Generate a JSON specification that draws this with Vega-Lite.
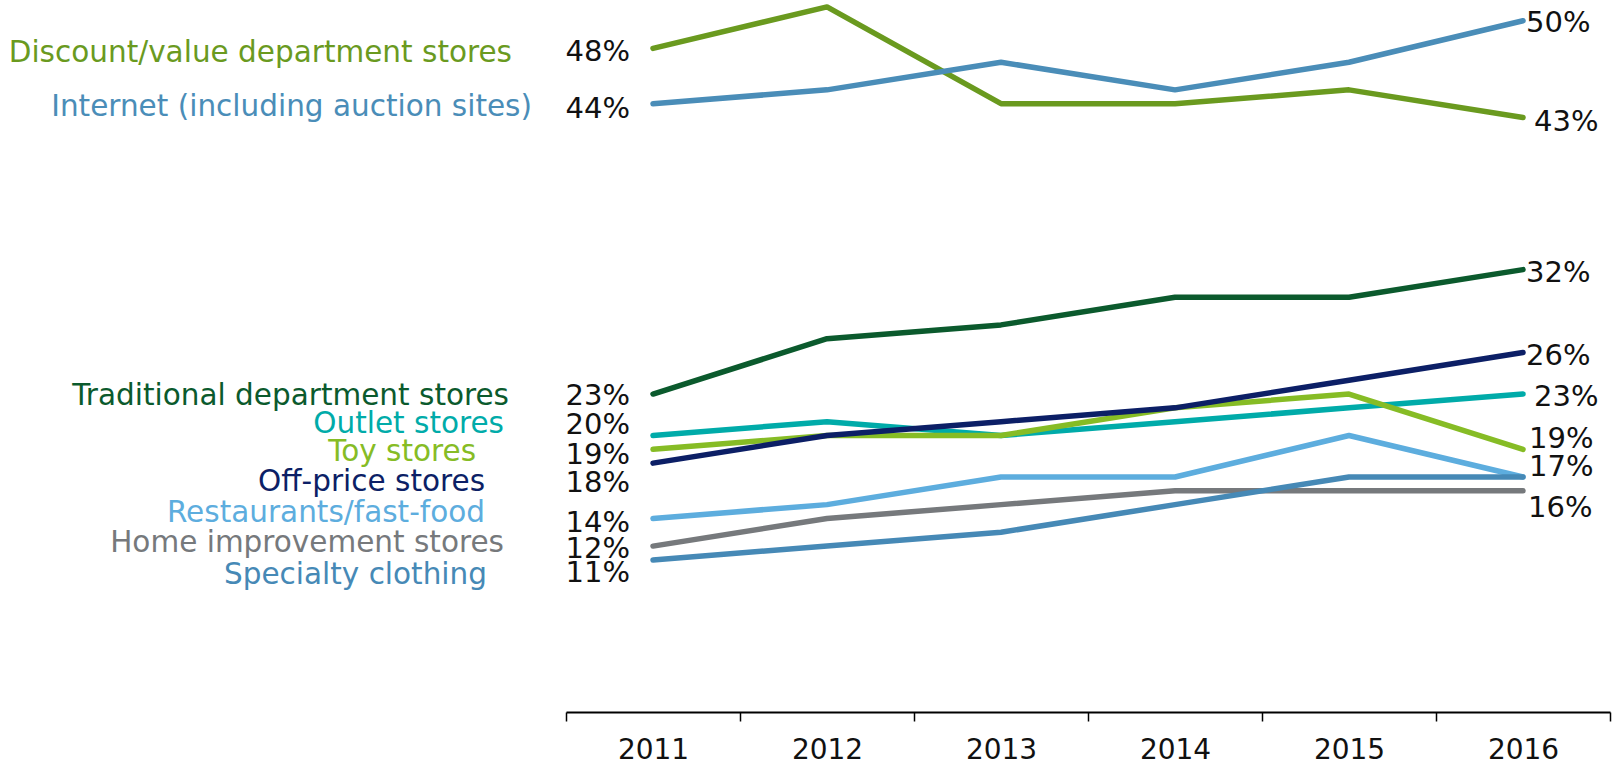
{
  "$schema": "https://vega.github.io/schema/vega-lite/v6.json",
  "width": 1044,
  "height": 712,
  "autosize": {"type": "none"},
  "padding": {"left": 566, "top": 0, "right": 3, "bottom": 54},
  "background": "white",
  "config": {"view": {"stroke": null}},
  "data": {
    "values": [
      {"series": "Discount/value department stores", "year": "2011", "value": 0.48},
      {"series": "Discount/value department stores", "year": "2012", "value": 0.51},
      {"series": "Discount/value department stores", "year": "2013", "value": 0.44},
      {"series": "Discount/value department stores", "year": "2014", "value": 0.44},
      {"series": "Discount/value department stores", "year": "2015", "value": 0.45},
      {"series": "Discount/value department stores", "year": "2016", "value": 0.43},
      {"series": "Internet (including auction sites)", "year": "2011", "value": 0.44},
      {"series": "Internet (including auction sites)", "year": "2012", "value": 0.45},
      {"series": "Internet (including auction sites)", "year": "2013", "value": 0.47},
      {"series": "Internet (including auction sites)", "year": "2014", "value": 0.45},
      {"series": "Internet (including auction sites)", "year": "2015", "value": 0.47},
      {"series": "Internet (including auction sites)", "year": "2016", "value": 0.50},
      {"series": "Traditional department stores", "year": "2011", "value": 0.23},
      {"series": "Traditional department stores", "year": "2012", "value": 0.27},
      {"series": "Traditional department stores", "year": "2013", "value": 0.28},
      {"series": "Traditional department stores", "year": "2014", "value": 0.30},
      {"series": "Traditional department stores", "year": "2015", "value": 0.30},
      {"series": "Traditional department stores", "year": "2016", "value": 0.32},
      {"series": "Outlet stores", "year": "2011", "value": 0.20},
      {"series": "Outlet stores", "year": "2012", "value": 0.21},
      {"series": "Outlet stores", "year": "2013", "value": 0.20},
      {"series": "Outlet stores", "year": "2014", "value": 0.21},
      {"series": "Outlet stores", "year": "2015", "value": 0.22},
      {"series": "Outlet stores", "year": "2016", "value": 0.23},
      {"series": "Toy stores", "year": "2011", "value": 0.19},
      {"series": "Toy stores", "year": "2012", "value": 0.20},
      {"series": "Toy stores", "year": "2013", "value": 0.20},
      {"series": "Toy stores", "year": "2014", "value": 0.22},
      {"series": "Toy stores", "year": "2015", "value": 0.23},
      {"series": "Toy stores", "year": "2016", "value": 0.19},
      {"series": "Off-price stores", "year": "2011", "value": 0.18},
      {"series": "Off-price stores", "year": "2012", "value": 0.20},
      {"series": "Off-price stores", "year": "2013", "value": 0.21},
      {"series": "Off-price stores", "year": "2014", "value": 0.22},
      {"series": "Off-price stores", "year": "2015", "value": 0.24},
      {"series": "Off-price stores", "year": "2016", "value": 0.26},
      {"series": "Restaurants/fast-food", "year": "2011", "value": 0.14},
      {"series": "Restaurants/fast-food", "year": "2012", "value": 0.15},
      {"series": "Restaurants/fast-food", "year": "2013", "value": 0.17},
      {"series": "Restaurants/fast-food", "year": "2014", "value": 0.17},
      {"series": "Restaurants/fast-food", "year": "2015", "value": 0.20},
      {"series": "Restaurants/fast-food", "year": "2016", "value": 0.17},
      {"series": "Home improvement stores", "year": "2011", "value": 0.12},
      {"series": "Home improvement stores", "year": "2012", "value": 0.14},
      {"series": "Home improvement stores", "year": "2013", "value": 0.15},
      {"series": "Home improvement stores", "year": "2014", "value": 0.16},
      {"series": "Home improvement stores", "year": "2015", "value": 0.16},
      {"series": "Home improvement stores", "year": "2016", "value": 0.16},
      {"series": "Specialty clothing", "year": "2011", "value": 0.11},
      {"series": "Specialty clothing", "year": "2012", "value": 0.12},
      {"series": "Specialty clothing", "year": "2013", "value": 0.13},
      {"series": "Specialty clothing", "year": "2014", "value": 0.15},
      {"series": "Specialty clothing", "year": "2015", "value": 0.17},
      {"series": "Specialty clothing", "year": "2016", "value": 0.17}
    ]
  },
  "encoding": {
    "x": {
      "field": "year",
      "type": "ordinal",
      "bandPosition": 0.5,
      "scale": {"type": "band", "paddingInner": 0, "paddingOuter": 0},
      "axis": {
        "title": null,
        "labelAngle": 0,
        "domainColor": "#000000",
        "domainWidth": 2,
        "tickColor": "#000000",
        "tickWidth": 1.5,
        "tickSize": 9,
        "tickBand": "extent",
        "labelFont": "DejaVu Sans",
        "labelFontSize": 28,
        "labelColor": "#111111",
        "labelPadding": 15,
        "grid": false
      }
    },
    "y": {
      "field": "value",
      "type": "quantitative",
      "scale": {"domain": [0, 0.515], "nice": false, "zero": true},
      "axis": null
    }
  },
  "layer": [
    {
      "mark": {"type": "line", "strokeWidth": 5.5, "strokeCap": "round", "strokeJoin": "round"},
      "encoding": {
        "color": {
          "field": "series",
          "type": "nominal",
          "legend": null,
          "scale": {
            "domain": ["Discount/value department stores", "Internet (including auction sites)", "Traditional department stores", "Outlet stores", "Toy stores", "Off-price stores", "Restaurants/fast-food", "Home improvement stores", "Specialty clothing"],
            "range": ["#6A9A1F", "#4A8DB8", "#0B5A2D", "#00ABA9", "#86BC25", "#0C1F66", "#5DADDE", "#76797C", "#4689B6"]
          }
        }
      }
    },
    {"transform": [{"filter": "datum.year === '2011' && datum.series === 'Discount/value department stores'"}], "mark": {"type": "text", "align": "right", "baseline": "middle", "dx": -141, "dy": 5, "font": "DejaVu Sans", "fontSize": 29.5}, "encoding": {"text": {"field": "series"}, "color": {"field": "series", "type": "nominal", "legend": null}}},
    {"transform": [{"filter": "datum.year === '2011' && datum.series === 'Internet (including auction sites)'"}], "mark": {"type": "text", "align": "right", "baseline": "middle", "dx": -121, "dy": 3, "font": "DejaVu Sans", "fontSize": 29.5}, "encoding": {"text": {"field": "series"}, "color": {"field": "series", "type": "nominal", "legend": null}}},
    {"transform": [{"filter": "datum.year === '2011' && datum.series === 'Traditional department stores'"}], "mark": {"type": "text", "align": "right", "baseline": "middle", "dx": -144, "dy": 2, "font": "DejaVu Sans", "fontSize": 29.5}, "encoding": {"text": {"field": "series"}, "color": {"field": "series", "type": "nominal", "legend": null}}},
    {"transform": [{"filter": "datum.year === '2011' && datum.series === 'Outlet stores'"}], "mark": {"type": "text", "align": "right", "baseline": "middle", "dx": -149, "dy": -11, "font": "DejaVu Sans", "fontSize": 29.5}, "encoding": {"text": {"field": "series"}, "color": {"field": "series", "type": "nominal", "legend": null}}},
    {"transform": [{"filter": "datum.year === '2011' && datum.series === 'Toy stores'"}], "mark": {"type": "text", "align": "right", "baseline": "middle", "dx": -177, "dy": 3, "font": "DejaVu Sans", "fontSize": 29.5}, "encoding": {"text": {"field": "series"}, "color": {"field": "series", "type": "nominal", "legend": null}}},
    {"transform": [{"filter": "datum.year === '2011' && datum.series === 'Off-price stores'"}], "mark": {"type": "text", "align": "right", "baseline": "middle", "dx": -168, "dy": 19, "font": "DejaVu Sans", "fontSize": 29.5}, "encoding": {"text": {"field": "series"}, "color": {"field": "series", "type": "nominal", "legend": null}}},
    {"transform": [{"filter": "datum.year === '2011' && datum.series === 'Restaurants/fast-food'"}], "mark": {"type": "text", "align": "right", "baseline": "middle", "dx": -168, "dy": -5, "font": "DejaVu Sans", "fontSize": 29.5}, "encoding": {"text": {"field": "series"}, "color": {"field": "series", "type": "nominal", "legend": null}}},
    {"transform": [{"filter": "datum.year === '2011' && datum.series === 'Home improvement stores'"}], "mark": {"type": "text", "align": "right", "baseline": "middle", "dx": -149, "dy": -3, "font": "DejaVu Sans", "fontSize": 29.5}, "encoding": {"text": {"field": "series"}, "color": {"field": "series", "type": "nominal", "legend": null}}},
    {"transform": [{"filter": "datum.year === '2011' && datum.series === 'Specialty clothing'"}], "mark": {"type": "text", "align": "right", "baseline": "middle", "dx": -166, "dy": 15, "font": "DejaVu Sans", "fontSize": 29.5}, "encoding": {"text": {"field": "series"}, "color": {"field": "series", "type": "nominal", "legend": null}}},
    {"transform": [{"filter": "datum.year === '2011' && datum.series === 'Discount/value department stores'"}], "mark": {"type": "text", "align": "right", "baseline": "middle", "dx": -23, "dy": 4, "font": "DejaVu Sans", "fontSize": 29, "fill": "#111111"}, "encoding": {"text": {"field": "value", "type": "quantitative", "format": ".0%"}}},
    {"transform": [{"filter": "datum.year === '2011' && datum.series === 'Internet (including auction sites)'"}], "mark": {"type": "text", "align": "right", "baseline": "middle", "dx": -23, "dy": 5, "font": "DejaVu Sans", "fontSize": 29, "fill": "#111111"}, "encoding": {"text": {"field": "value", "type": "quantitative", "format": ".0%"}}},
    {"transform": [{"filter": "datum.year === '2011' && datum.series === 'Traditional department stores'"}], "mark": {"type": "text", "align": "right", "baseline": "middle", "dx": -23, "dy": 2, "font": "DejaVu Sans", "fontSize": 29, "fill": "#111111"}, "encoding": {"text": {"field": "value", "type": "quantitative", "format": ".0%"}}},
    {"transform": [{"filter": "datum.year === '2011' && datum.series === 'Restaurants/fast-food'"}], "mark": {"type": "text", "align": "right", "baseline": "middle", "dx": -23, "dy": 5, "font": "DejaVu Sans", "fontSize": 29, "fill": "#111111"}, "encoding": {"text": {"field": "value", "type": "quantitative", "format": ".0%"}}},
    {"transform": [{"filter": "datum.year === '2011' && datum.series === 'Outlet stores'"}], "mark": {"type": "text", "align": "right", "baseline": "middle", "dx": -23, "dy": -10, "font": "DejaVu Sans", "fontSize": 29, "fill": "#111111"}, "encoding": {"text": {"field": "value", "type": "quantitative", "format": ".0%"}}},
    {"transform": [{"filter": "datum.year === '2011' && datum.series === 'Toy stores'"}], "mark": {"type": "text", "align": "right", "baseline": "middle", "dx": -23, "dy": 6, "font": "DejaVu Sans", "fontSize": 29, "fill": "#111111"}, "encoding": {"text": {"field": "value", "type": "quantitative", "format": ".0%"}}},
    {"transform": [{"filter": "datum.year === '2011' && datum.series === 'Off-price stores'"}], "mark": {"type": "text", "align": "right", "baseline": "middle", "dx": -23, "dy": 20, "font": "DejaVu Sans", "fontSize": 29, "fill": "#111111"}, "encoding": {"text": {"field": "value", "type": "quantitative", "format": ".0%"}}},
    {"transform": [{"filter": "datum.year === '2011' && datum.series === 'Home improvement stores'"}], "mark": {"type": "text", "align": "right", "baseline": "middle", "dx": -23, "dy": 3, "font": "DejaVu Sans", "fontSize": 29, "fill": "#111111"}, "encoding": {"text": {"field": "value", "type": "quantitative", "format": ".0%"}}},
    {"transform": [{"filter": "datum.year === '2011' && datum.series === 'Specialty clothing'"}], "mark": {"type": "text", "align": "right", "baseline": "middle", "dx": -23, "dy": 13, "font": "DejaVu Sans", "fontSize": 29, "fill": "#111111"}, "encoding": {"text": {"field": "value", "type": "quantitative", "format": ".0%"}}},
    {"transform": [{"filter": "datum.year === '2016' && datum.series === 'Internet (including auction sites)'"}], "mark": {"type": "text", "align": "left", "baseline": "middle", "dx": 3, "dy": 2, "font": "DejaVu Sans", "fontSize": 29, "fill": "#111111"}, "encoding": {"text": {"field": "value", "type": "quantitative", "format": ".0%"}}},
    {"transform": [{"filter": "datum.year === '2016' && datum.series === 'Off-price stores'"}], "mark": {"type": "text", "align": "left", "baseline": "middle", "dx": 3, "dy": 3, "font": "DejaVu Sans", "fontSize": 29, "fill": "#111111"}, "encoding": {"text": {"field": "value", "type": "quantitative", "format": ".0%"}}},
    {"transform": [{"filter": "datum.year === '2016' && datum.series === 'Traditional department stores'"}], "mark": {"type": "text", "align": "left", "baseline": "middle", "dx": 3, "dy": 3, "font": "DejaVu Sans", "fontSize": 29, "fill": "#111111"}, "encoding": {"text": {"field": "value", "type": "quantitative", "format": ".0%"}}},
    {"transform": [{"filter": "datum.year === '2016' && datum.series === 'Discount/value department stores'"}], "mark": {"type": "text", "align": "left", "baseline": "middle", "dx": 11, "dy": 4, "font": "DejaVu Sans", "fontSize": 29, "fill": "#111111"}, "encoding": {"text": {"field": "value", "type": "quantitative", "format": ".0%"}}},
    {"transform": [{"filter": "datum.year === '2016' && datum.series === 'Outlet stores'"}], "mark": {"type": "text", "align": "left", "baseline": "middle", "dx": 11, "dy": 3, "font": "DejaVu Sans", "fontSize": 29, "fill": "#111111"}, "encoding": {"text": {"field": "value", "type": "quantitative", "format": ".0%"}}},
    {"transform": [{"filter": "datum.year === '2016' && (datum.series === 'Toy stores' || datum.series === 'Restaurants/fast-food')"}], "mark": {"type": "text", "align": "left", "baseline": "middle", "dx": 6, "dy": -10, "font": "DejaVu Sans", "fontSize": 29, "fill": "#111111"}, "encoding": {"text": {"field": "value", "type": "quantitative", "format": ".0%"}}},
    {"transform": [{"filter": "datum.year === '2016' && datum.series === 'Home improvement stores'"}], "mark": {"type": "text", "align": "left", "baseline": "middle", "dx": 5, "dy": 17, "font": "DejaVu Sans", "fontSize": 29, "fill": "#111111"}, "encoding": {"text": {"field": "value", "type": "quantitative", "format": ".0%"}}}
  ]
}
